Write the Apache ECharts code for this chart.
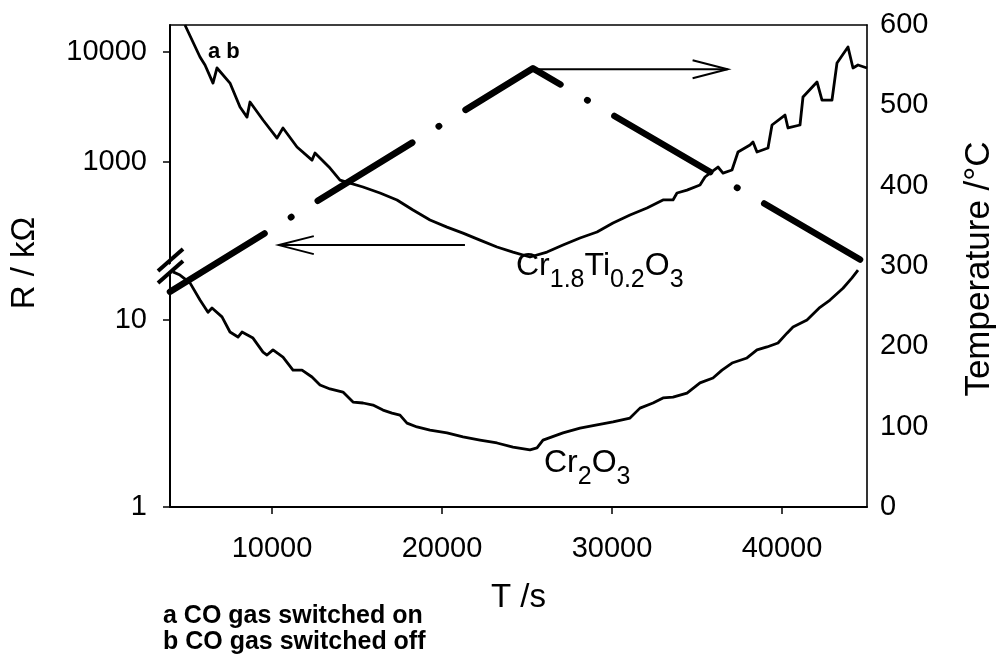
<!DOCTYPE html>
<html>
<head>
<meta charset="utf-8">
<script src="https://cdn.jsdelivr.net/npm/echarts@6/dist/echarts.min.js"></script>
<style>
  html, body { margin: 0; padding: 0; background: #fff; }
  #chart { width: 998px; height: 661px; }
</style>
</head>
<body>
<div id="chart"></div>
<script>
// Time axis (s)
const timeMin = 4000;
const timeMax = 45000;
const timeTicks = [10000, 20000, 30000, 40000];

// Resistance axes (kΩ, log) – the axis is broken between the two sensors
const upperRTicks = [1000, 10000];
const upperRMin = 115.9;
const upperRMax = 17600;
const lowerRTicks = [1, 10];
const lowerRMin = 1;
const lowerRMax = 19.7;

// Temperature axis (°C)
const tempMin = 0;
const tempMax = 600;
const tempStep = 100;

// Cr1.8Ti0.2O3 resistance trace
const crTiTime = [4880, 5765, 6059, 6529, 6765, 7529, 8118, 8529, 8706, 9471, 10294, 10647, 11471, 12353, 12529, 13412, 14000, 14588, 15353, 16353, 17353, 18294, 19294, 20294, 21235, 22235, 23235, 24176, 25176, 26176, 27118, 28118, 29118, 30059, 31059, 32059, 33000, 33588, 33824, 34412, 35176, 35471, 35765, 36235, 36529, 37059, 37412, 38118, 38294, 38529, 39176, 39412, 40176, 40353, 41059, 41235, 42059, 42353, 42941, 43235, 43882, 44176, 44471, 45000];
const crTiR = [17600, 9010, 7620, 5220, 7160, 5220, 3160, 2560, 3510, 2410, 1650, 2040, 1370, 1040, 1210, 882, 686, 644, 593, 523, 452, 366, 297, 256, 226, 195, 169, 152, 137, 152, 176, 204, 231, 279, 330, 382, 452, 452, 523, 556, 618, 731, 794, 901, 794, 846, 1233, 1428, 1520, 1233, 1340, 2170, 2675, 2040, 2170, 3900, 5340, 3660, 3660, 7940, 11100, 7160, 7620, 7160];

// Cr2O3 resistance trace
const cr2Time = [4176, 4588, 5176, 5765, 6235, 6471, 7059, 7529, 8000, 8235, 8882, 9471, 9706, 10059, 10647, 11235, 11765, 12353, 12824, 13412, 14176, 14765, 15353, 15941, 16529, 17059, 17529, 17941, 18529, 19294, 20294, 21235, 22235, 23235, 24176, 25176, 25588, 25941, 27118, 28118, 29118, 30059, 31059, 31647, 32412, 33000, 33588, 34412, 35176, 35941, 36471, 37059, 37941, 38529, 39118, 39765, 40294, 40647, 41471, 42235, 42824, 43588, 44118, 44471];
const cr2R = [18.1, 17.4, 15.8, 12.8, 11.0, 11.6, 10.4, 8.63, 8.11, 8.63, 8.01, 6.74, 6.50, 6.92, 6.34, 5.40, 5.40, 4.96, 4.49, 4.28, 4.12, 3.64, 3.60, 3.51, 3.30, 3.18, 3.10, 2.81, 2.68, 2.58, 2.49, 2.37, 2.28, 2.20, 2.09, 2.02, 2.07, 2.28, 2.49, 2.64, 2.75, 2.85, 2.99, 3.38, 3.60, 3.83, 3.87, 4.07, 4.61, 4.90, 5.40, 5.89, 6.27, 6.92, 7.18, 7.54, 8.51, 9.18, 10.0, 11.7, 12.8, 14.8, 16.8, 18.5];

// Furnace temperature programme
const tempTime = [4000, 25350, 45000];
const tempC = [268, 546, 303];

// Arrows telling which axis each trace belongs to (temperature coordinates)
const arrowToTemp = [[25350, 545], [36800, 545]];
const arrowToR = [[21350, 326], [10400, 326]];

// Text
const formulaTi = [['Cr', '1.8'], ['Ti', '0.2'], ['O', '3']];
const formulaCr = [['Cr', '2'], ['O', '3']];
const footnotes = ['a CO gas switched on', 'b CO gas switched off'];

const FONT = '"Liberation Sans", Arial, Helvetica, sans-serif';
const BLACK = '#000';

const zip = (xs, ys) => xs.map((x, i) => [x, ys[i]]);
const formulaText = parts => parts.map(([t, s]) => `{m|${t}}` + (s ? `{s|${s}}` : '')).join('');
const plainNumber = v => String(Math.round(v * 1000) / 1000);

const chart = echarts.init(document.getElementById('chart'), null, { renderer: 'canvas' });

const G = { left: 170, width: 697, top: 25, split: 265, bottom: 507 };

const axisLineStyle = (w) => ({ show: true, lineStyle: { color: BLACK, width: w } });
const tickLabel = { color: BLACK, fontFamily: FONT, fontSize: 29, formatter: plainNumber };

const option = {
  backgroundColor: '#fff',
  animation: false,
  grid: [
    { left: G.left, width: G.width, top: G.top, height: G.split - G.top },
    { left: G.left, width: G.width, top: G.split, height: G.bottom - G.split },
    { left: G.left, width: G.width, top: G.top, height: G.bottom - G.top }
  ],
  xAxis: [
    { gridIndex: 0, type: 'value', min: timeMin, max: timeMax, position: 'top',
      axisLine: axisLineStyle(1.6), axisTick: { show: false }, axisLabel: { show: false }, splitLine: { show: false } },
    { gridIndex: 1, type: 'value', min: timeMin, max: timeMax, position: 'bottom',
      axisLine: axisLineStyle(2),
      axisTick: { show: true, inside: false, length: 7, customValues: timeTicks, lineStyle: { color: BLACK, width: 1.5 } },
      axisLabel: Object.assign({ customValues: timeTicks, margin: 27 }, tickLabel),
      splitLine: { show: false },
      name: 'T /s', nameLocation: 'middle', nameGap: 74,
      nameTextStyle: { color: BLACK, fontFamily: FONT, fontSize: 33 } },
    { gridIndex: 2, type: 'value', min: timeMin, max: timeMax, show: false }
  ],
  yAxis: [
    { gridIndex: 0, type: 'log', logBase: 10, min: upperRMin, max: upperRMax, position: 'left',
      axisLine: axisLineStyle(2),
      axisTick: { show: true, inside: false, length: 7, customValues: upperRTicks, lineStyle: { color: BLACK, width: 1.5 } },
      axisLabel: Object.assign({ customValues: upperRTicks, margin: 23 }, tickLabel),
      minorTick: { show: false }, splitLine: { show: false } },
    { gridIndex: 1, type: 'log', logBase: 10, min: lowerRMin, max: lowerRMax, position: 'left',
      axisLine: axisLineStyle(2),
      axisTick: { show: true, inside: false, length: 7, customValues: lowerRTicks, lineStyle: { color: BLACK, width: 1.5 } },
      axisLabel: Object.assign({ customValues: lowerRTicks, margin: 23 }, tickLabel),
      minorTick: { show: false }, splitLine: { show: false } },
    { gridIndex: 2, type: 'value', min: tempMin, max: tempMax, interval: tempStep, position: 'right',
      axisLine: axisLineStyle(1.6), axisTick: { show: false },
      axisLabel: Object.assign({ margin: 13, padding: [0, 0, 6, 0] }, tickLabel),
      splitLine: { show: false } }
  ],
  series: [
    { name: 'Cr1.8Ti0.2O3', type: 'line', xAxisIndex: 0, yAxisIndex: 0,
      data: zip(crTiTime, crTiR), showSymbol: false, symbol: 'none', clip: true,
      lineStyle: { color: BLACK, width: 2.8, join: 'round' }, z: 3 },
    { name: 'Cr2O3', type: 'line', xAxisIndex: 1, yAxisIndex: 1,
      data: zip(cr2Time, cr2R), showSymbol: false, symbol: 'none', clip: true,
      lineStyle: { color: BLACK, width: 2.8, join: 'round' }, z: 3 },
    { name: 'Temperature', type: 'line', xAxisIndex: 2, yAxisIndex: 2,
      data: zip(tempTime, tempC), showSymbol: false, symbol: 'none', clip: true,
      lineStyle: { color: BLACK, width: 6.5, type: [111, 31, 0.5, 31], cap: 'round', join: 'round' }, z: 4 }
  ]
};

chart.setOption(option);

// Annotations placed after layout so they follow the axes
function arrow(pts) {
  const a = chart.convertToPixel({ xAxisIndex: 2, yAxisIndex: 2 }, pts[0]);
  const b = chart.convertToPixel({ xAxisIndex: 2, yAxisIndex: 2 }, pts[1]);
  const dir = Math.sign(b[0] - a[0]);
  const st = { stroke: BLACK, lineWidth: 2, fill: null };
  return [
    { type: 'polyline', z: 6, shape: { points: [a, b] }, style: st },
    { type: 'polyline', z: 6, shape: { points: [[b[0] - dir * 35, b[1] - 9], b, [b[0] - dir * 35, b[1] + 9]] }, style: st }
  ];
}

const richStyle = {
  m: { fontSize: 32, fontFamily: FONT, fill: BLACK, verticalAlign: 'top' },
  s: { fontSize: 25, fontFamily: FONT, fill: BLACK, verticalAlign: 'top', padding: [18, 0, 0, 0] }
};

const graphics = [
  // axis break marks
  { type: 'polygon', z: 1, shape: { points: [[160, 273], [184, 252], [184, 262], [160, 283]] }, style: { fill: '#fff' } },
  { type: 'line', z: 7, shape: { x1: 158, y1: 271, x2: 183, y2: 249 }, style: { stroke: BLACK, lineWidth: 4 } },
  { type: 'line', z: 7, shape: { x1: 158, y1: 283, x2: 183, y2: 261 }, style: { stroke: BLACK, lineWidth: 4 } },
  // axis titles
  { type: 'text', z: 8, x: 25, y: 263, rotation: Math.PI / 2,
    style: { text: 'R / kΩ', font: `33px ${FONT}`, fill: BLACK, align: 'center', verticalAlign: 'middle' } },
  { type: 'text', z: 8, x: 979, y: 269, rotation: Math.PI / 2,
    style: { text: 'Temperature /°C', font: `35px ${FONT}`, fill: BLACK, align: 'center', verticalAlign: 'middle' } },
  // trace labels
  { type: 'text', z: 8, x: 516, y: 250,
    style: { text: formulaText(formulaTi), rich: richStyle, align: 'left', verticalAlign: 'top' } },
  { type: 'text', z: 8, x: 544, y: 447,
    style: { text: formulaText(formulaCr), rich: richStyle, align: 'left', verticalAlign: 'top' } },
  { type: 'text', z: 8, x: 208, y: 41,
    style: { text: 'a b', font: `bold 22px ${FONT}`, fill: BLACK, align: 'left', verticalAlign: 'top' } },
  // footnotes
  { type: 'text', z: 8, x: 163, y: 603,
    style: { text: footnotes.join('\n'), font: `bold 25px ${FONT}`, lineHeight: 26, fill: BLACK, align: 'left', verticalAlign: 'top' } }
].concat(arrow(arrowToTemp), arrow(arrowToR));

chart.setOption({ graphic: { elements: graphics } });
</script>
</body>
</html>
